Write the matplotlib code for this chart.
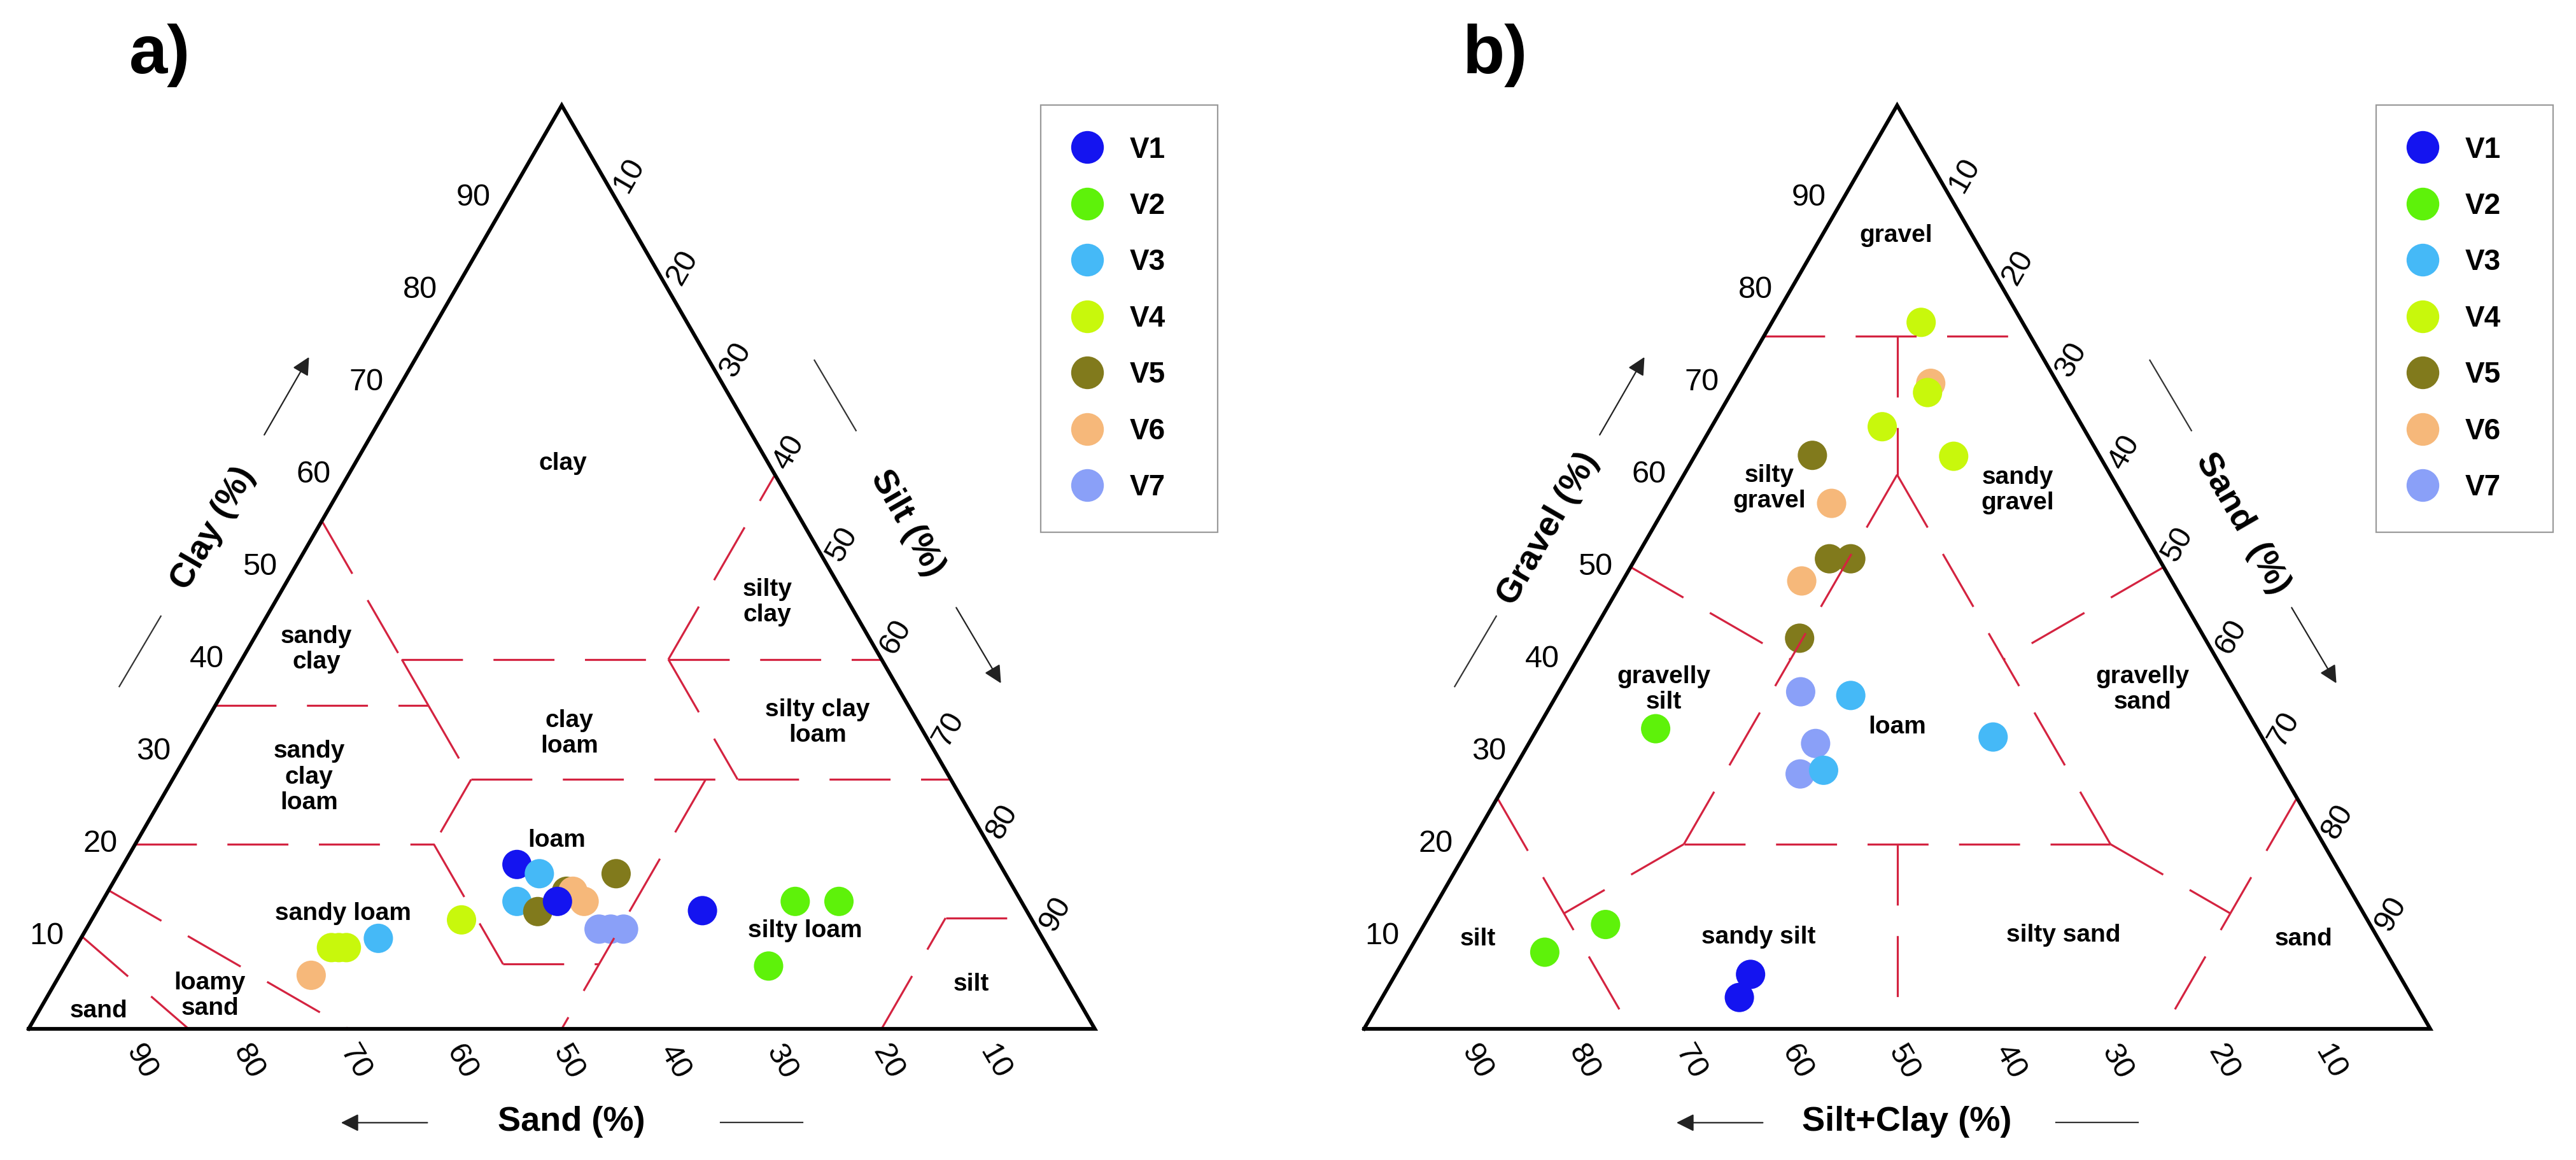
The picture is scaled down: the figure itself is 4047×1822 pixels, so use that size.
"""Two ternary diagrams: a) soil texture (USDA), b) gravel / sand / silt+clay."""
import numpy as np
import matplotlib
matplotlib.use("Agg")
import matplotlib.pyplot as plt
from matplotlib.lines import Line2D

plt.rcParams['font.family'] = ['Liberation Sans', 'DejaVu Sans']

H = np.sqrt(3) / 2
RED = "#D42340"

GROUPS = ["V1", "V2", "V3", "V4", "V5", "V6", "V7"]
COLORS = ["#1414F0", "#5EF20A", "#45B9F7", "#C8F80C", "#817A1C", "#F6B87A", "#8AA0F8"]
TICKS = [10, 20, 30, 40, 50, 60, 70, 80, 90]

# ---- panel a: clay / silt (%) of each sample, in drawing order (sand = rest)
A_GROUP = ["V1", "V3", "V3", "V5", "V6", "V6", "V5", "V1", "V5", "V4", "V7",
           "V7", "V7", "V1", "V2", "V2", "V2", "V4", "V4", "V4", "V6", "V3"]
A_CLAY = [17.8, 16.8, 13.8, 14.9, 14.9, 13.8, 12.7, 13.8, 16.8, 11.8, 10.8,
          10.8, 10.8, 12.8, 13.8, 13.8, 6.8, 8.8, 8.8, 8.8, 5.8, 9.8]
A_SILT = [36.9, 39.5, 38.9, 43.0, 43.6, 45.2, 41.4, 42.7, 46.7, 34.7, 48.1,
          49.2, 50.4, 56.8, 65.0, 69.1, 66.0, 24.0, 24.7, 25.4, 23.6, 27.9]

# ---- panel b: gravel / sand (%) of each sample, in drawing order (silt+clay = rest)
B_GROUP = ["V4", "V6", "V4", "V4", "V4", "V5", "V6", "V5", "V5", "V6", "V5",
           "V7", "V3", "V7", "V7", "V3", "V3", "V2", "V2", "V2", "V1", "V1"]
B_GRAVEL = [76.5, 69.9, 68.9, 65.2, 62.0, 62.1, 56.9, 50.9, 50.9, 48.5, 42.3,
            36.5, 36.1, 30.9, 27.6, 28.0, 31.6, 32.5, 11.3, 8.3, 5.9, 3.4]
B_SAND = [14.0, 18.2, 18.4, 16.0, 24.3, 11.0, 15.4, 18.2, 20.2, 16.8, 19.7,
          22.7, 27.6, 26.9, 27.1, 29.1, 43.2, 11.1, 17.0, 12.8, 33.3, 33.5]

# class boundaries, endpoints as (right-corner %, apex %)
# a: (silt, clay)
A_BOUNDS = [
    ((0, 55), (15, 40)), ((15, 40), (20, 35)), ((20, 35), (28, 27)),
    ((0, 35), (20, 35)), ((15, 40), (40, 40)), ((40, 40), (60, 40)),
    ((40, 40), (40, 60)), ((40, 40), (53, 27)), ((28, 27), (53, 27)),
    ((53, 27), (73, 27)), ((28, 27), (28, 20)), ((0, 20), (28, 20)),
    ((28, 20), (41, 7)), ((41, 7), (50, 7)), ((50, 27), (50, 0)),
    ((0, 15), (30, 0)), ((0, 10), (15, 0)), ((80, 0), (80, 12)),
    ((80, 12), (88, 12)),
]
# b: (sand, gravel)
B_BOUNDS = [
    ((0, 75), (25, 75)), ((12.5, 75), (20, 60)), ((20, 60), (20, 20)),
    ((20, 60), (60, 20)), ((20, 20), (60, 20)), ((40, 20), (50, 0)),
    ((0, 50), (20, 40)), ((50, 50), (40, 40)), ((20, 20), (12.5, 12.5)),
    ((60, 20), (75, 12.5)), ((0, 25), (25, 0)), ((75, 25), (75, 0)),
]

A_REGIONS = ["clay", "silty\nclay", "sandy\nclay", "clay\nloam", "silty clay\nloam",
             "sandy\nclay\nloam", "loam", "sandy loam", "silty loam", "loamy\nsand",
             "sand", "silt"]
A_REGION_XY = [(0.501, 0.530), (0.693, 0.400), (0.270, 0.356), (0.507, 0.277),
               (0.740, 0.287), (0.263, 0.236), (0.495, 0.177), (0.295, 0.108),
               (0.728, 0.092), (0.170, 0.031), (0.066, 0.017), (0.884, 0.042)]
B_REGIONS = ["gravel", "silty\ngravel", "sandy\ngravel", "gravelly\nsilt", "loam",
             "gravelly\nsand", "silt", "sandy silt", "silty sand", "sand"]
B_REGION_XY = [(0.499, 0.744), (0.380, 0.507), (0.613, 0.505), (0.281, 0.318),
               (0.500, 0.283), (0.730, 0.318), (0.107, 0.084), (0.370, 0.086),
               (0.656, 0.088), (0.881, 0.084)]


def tern(right, apex):
    """fractions of the right corner and of the apex -> x, y in the unit triangle"""
    right = np.asarray(right, dtype=float)
    apex = np.asarray(apex, dtype=float)
    return right + apex / 2, apex * H


def draw_panel(ax, right_vals, apex_vals, groups, bounds, regions, region_xy,
               titles, panel_label):
    ax.set_xlim(0, 1)
    ax.set_ylim(0, H)
    ax.axis("off")

    # samples (below the class lines)
    xs, ys = tern(np.array(right_vals) / 100, np.array(apex_vals) / 100)
    cols = [COLORS[GROUPS.index(g)] for g in groups]
    ax.scatter(xs, ys, s=1100, c=cols, edgecolors="none", zorder=3, clip_on=False)

    # class boundaries
    for (r0, a0), (r1, a1) in bounds:
        x0, y0 = tern(r0 / 100, a0 / 100)
        x1, y1 = tern(r1 / 100, a1 / 100)
        ax.plot([x0, x1], [y0, y1], color=RED, lw=2.3, ls=(0, (30, 15)),
                dash_capstyle="butt", zorder=4, clip_on=False)

    # triangle frame
    ax.plot([0, 1, 0.5, 0], [0, 0, H, 0], color="black", lw=4.2,
            solid_joinstyle="miter", zorder=5, clip_on=False)

    for txt, (x, y) in zip(regions, region_xy):
        ax.text(x, y, txt, ha="center", va="center", fontsize=28,
                fontweight="bold", linespacing=1.15, zorder=6)

    # tick labels
    for t in TICKS:
        f = t / 100
        x, y = tern(0, f)
        ax.text(x - 0.033, y, str(t), ha="center", va="center", fontsize=35)
        x, y = tern(f, 1 - f)
        ax.text(x + 0.013, y + 0.021, str(t), ha="center", va="center",
                fontsize=35, rotation=60)
        x, y = tern(1 - f, 0)
        ax.text(x + 0.006, y - 0.031, str(t), ha="center", va="center",
                fontsize=35, rotation=-60)

    # axis titles with their arrows
    left_t, right_t, bottom_t = titles
    ax.text(0.173, 0.469, left_t, ha="center", va="center", rotation=60,
            fontsize=39, fontweight="bold")
    ax.text(0.824, 0.474, right_t, ha="center", va="center", rotation=-60,
            fontsize=39, fontweight="bold")
    ax.text(0.509, -0.087, bottom_t, ha="center", va="center",
            fontsize=39, fontweight="bold")

    arr = dict(arrowstyle="-|>", lw=1.6, color="#222222", mutation_scale=42,
               shrinkA=0, shrinkB=0)
    ax.annotate("", xy=(0.263, 0.630), xytext=(0.221, 0.557), arrowprops=arr,
                annotation_clip=False)
    ax.annotate("", xy=(0.912, 0.324), xytext=(0.870, 0.395), arrowprops=arr,
                annotation_clip=False)
    ax.annotate("", xy=(0.293, -0.088), xytext=(0.374, -0.088), arrowprops=arr,
                annotation_clip=False)
    for (xa, ya), (xb, yb) in [((0.085, 0.321), (0.124, 0.387)),
                               ((0.737, 0.627), (0.776, 0.561)),
                               ((0.649, -0.088), (0.726, -0.088))]:
        ax.plot([xa, xb], [ya, yb], color="#333333", lw=1.6, clip_on=False)

    ax.text(0.123, 0.913, panel_label, ha="center", va="center",
            fontsize=78, fontweight="bold")

    handles = [Line2D([], [], ls="", marker="o", markersize=37,
                      markerfacecolor=c, markeredgewidth=0) for c in COLORS]
    leg = ax.legend(handles, GROUPS, loc="upper left",
                    bbox_to_anchor=(0.949, 0.0, 0.166, 1.0),
                    bbox_transform=ax.transAxes, mode="expand",
                    borderaxespad=0, borderpad=1.05, labelspacing=0.97,
                    handlelength=1.1, handletextpad=0.9,
                    prop=dict(size=33, weight="bold"),
                    fancybox=False, framealpha=1, edgecolor="#9a9a9a")
    leg.get_frame().set_linewidth(1.6)


fig = plt.figure(figsize=(40.47, 18.22), dpi=100)
W, HT = 4047, 1822
side = 1675
base_y = 1616
ax_a = fig.add_axes([45 / W, (HT - base_y) / HT, side / W, side * H / HT])
ax_b = fig.add_axes([2143 / W, (HT - base_y) / HT, side / W, side * H / HT])

draw_panel(ax_a, A_SILT, A_CLAY, A_GROUP, A_BOUNDS, A_REGIONS, A_REGION_XY,
           ("Clay (%)", "Silt (%)", "Sand (%)"), "a)")
draw_panel(ax_b, B_SAND, B_GRAVEL, B_GROUP, B_BOUNDS, B_REGIONS, B_REGION_XY,
           ("Gravel (%)", "Sand  (%)", "Silt+Clay (%)"), "b)")

fig.savefig("out.png", dpi=100, facecolor="white")
